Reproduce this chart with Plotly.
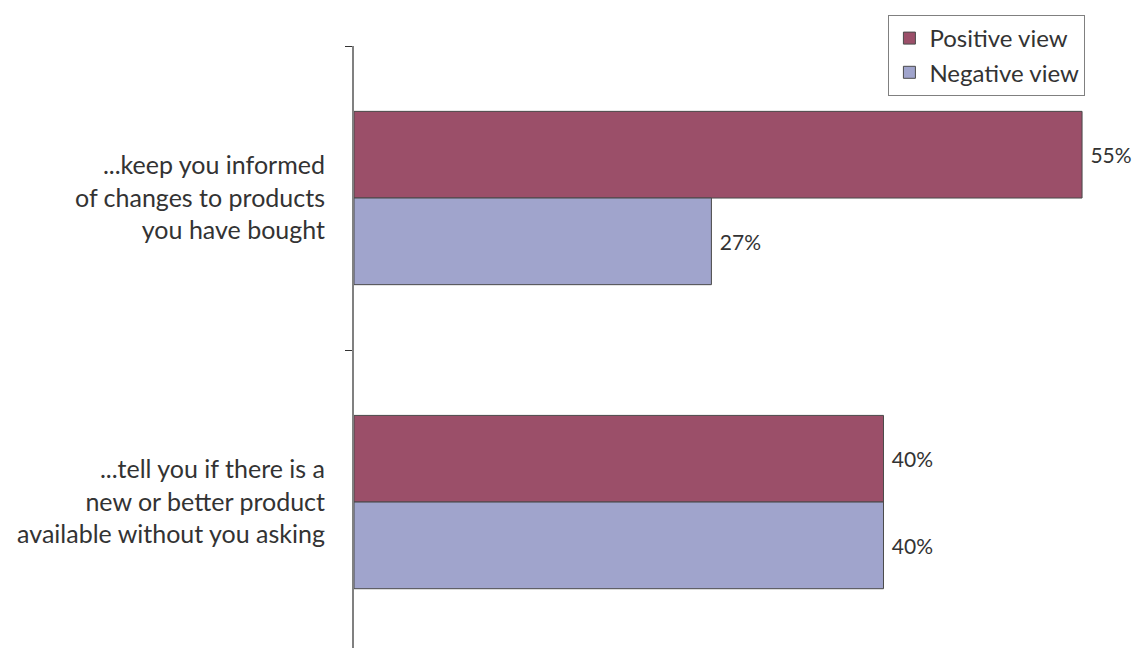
import plotly.graph_objects as go

# Survey statements (top to bottom) and the share of respondents per view
statements = [
    "...keep you informed<br>of changes to products<br>you have bought",
    "...tell you if there is a<br>new or better product<br>available without you asking",
]
positive_view = [55, 40]
negative_view = [27, 40]

series_names = ["Positive view", "Negative view"]
series_colors = ["#9B4F69", "#A0A4CC"]

FONT = "Lato"
TEXT_COLOR = "#333333"

fig = go.Figure()
for name, values, color in zip(series_names, [positive_view, negative_view], series_colors):
    fig.add_trace(go.Bar(
        y=statements,
        x=values,
        name=name,
        orientation="h",
        marker=dict(color=color, line=dict(color="#4a4a4a", width=1)),
        text=[f"\u00a0{v}%" for v in values],
        textposition="outside",
        textfont=dict(family=FONT, size=21, color=TEXT_COLOR),
        cliponaxis=False,
    ))

fig.update_layout(
    width=1139,
    height=648,
    barmode="group",
    bargap=0.43,
    bargroupgap=0,
    plot_bgcolor="white",
    paper_bgcolor="white",
    margin=dict(l=354, r=4, t=46, b=0),
    font=dict(family=FONT, size=25, color=TEXT_COLOR),
    showlegend=True,
    legend=dict(
        x=0.9365, xanchor="right",
        y=1.0515, yanchor="top",
        bordercolor="#808080", borderwidth=1,
        bgcolor="white",
        font=dict(family=FONT, size=24, color=TEXT_COLOR),
        tracegroupgap=0,
        itemwidth=30,
    ),
    xaxis=dict(
        range=[0, 59],
        visible=False,
    ),
    yaxis=dict(
        type="category",
        range=[1.48, -0.5],
        tickson="boundaries",
        ticks="outside",
        ticklen=7,
        tickwidth=1,
        tickcolor="#333333",
        showline=True,
        linecolor="#808080",
        linewidth=2,
        showgrid=False,
        zeroline=False,
        ticklabelstandoff=22,
        tickfont=dict(family=FONT, size=25, color=TEXT_COLOR),
    ),
)

fig.write_html("out.html")
